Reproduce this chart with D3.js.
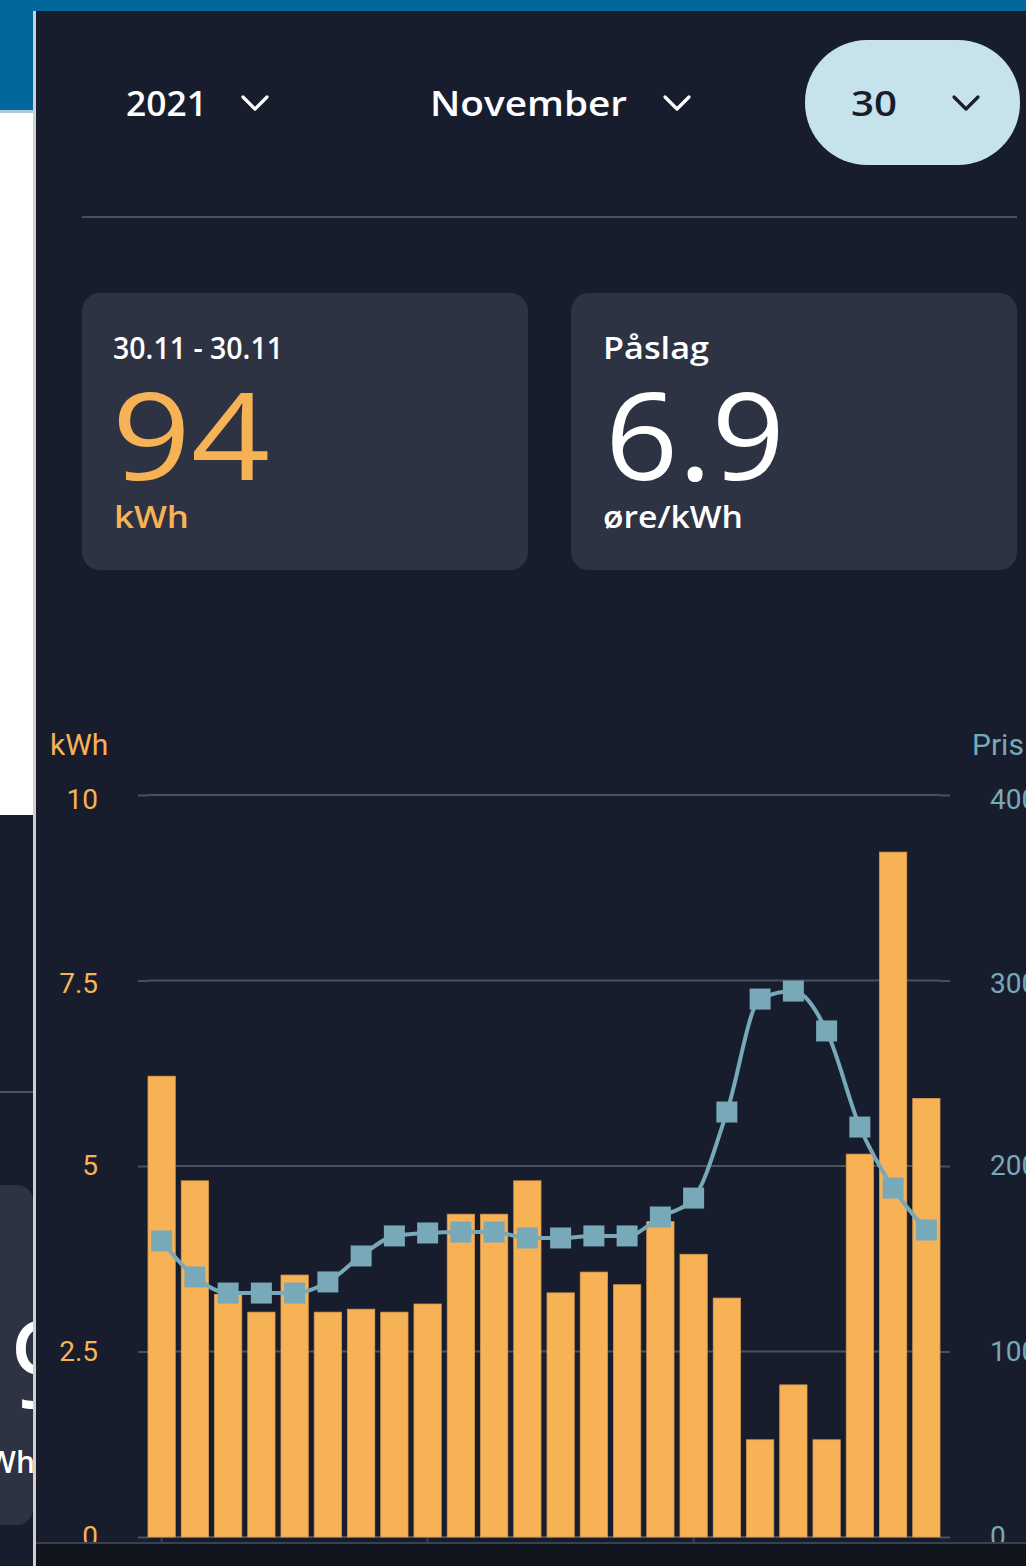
<!DOCTYPE html>
<html>
<head>
<meta charset="utf-8">
<script src="https://cdn.jsdelivr.net/npm/d3@7"></script>
<style>
  html, body { margin: 0; padding: 0; background: #181d2e; }
  svg { display: block; }
</style>
</head>
<body>
<svg id="chart" width="1026" height="1566"></svg>
<script>
// ---- Data ----
const hours = d3.range(24);
const consumption = [6.21, 4.80, 3.27, 3.03, 3.53, 3.03, 3.07, 3.03, 3.14, 4.35, 4.35, 4.80,
                     3.29, 3.57, 3.40, 4.25, 3.81, 3.22, 1.31, 2.05, 1.31, 5.16, 9.23, 5.91];
const price = [159.6, 140.2, 131.5, 131.5, 131.5, 137.5, 151.5, 162.3, 163.9, 164.4, 164.4, 161.2,
               161.2, 162.3, 162.3, 172.5, 182.7, 229.1, 290.0, 294.3, 272.8, 221.0, 188.1, 165.5];
const kwhTicks = [0, 2.5, 5, 7.5, 10];
const priceTicks = [0, 100, 200, 300, 400];
const xTickHours = [0, 8, 16];

const headerYear = "2021", headerMonth = "November", headerDay = "30";
const periodLabel = "30.11 - 30.11", totalKwh = "94", kwhUnit = "kWh";
const markupLabel = "Påslag", markupValue = "6.9", markupUnit = "øre/kWh";

// ---- Colours ----
const C = {
  bg: "#181d2e", card: "#2e3343", orange: "#f8b256", teal: "#77a9b8",
  grid: "#4b505d", pill: "#c6e2ea", blue: "#02679a", deep: "#10141e"
};

const svg = d3.select("#chart");
const headFont = "'Open Sans', sans-serif";
const chartFont = "Roboto, sans-serif";

// ---- Background / surrounding screenshot pieces ----
svg.append("rect").attr("x", 0).attr("y", 0).attr("width", 1026).attr("height", 1566).attr("fill", C.bg);
// left strip
svg.append("rect").attr("x", 0).attr("y", 0).attr("width", 34).attr("height", 815).attr("fill", "#ffffff");
svg.append("rect").attr("x", 0).attr("y", 0).attr("width", 34).attr("height", 110).attr("fill", C.blue);
svg.append("rect").attr("x", 0).attr("y", 110).attr("width", 34).attr("height", 3).attr("fill", "#a9c9dc");
svg.append("rect").attr("x", 0).attr("y", 1091).attr("width", 34).attr("height", 2).attr("fill", C.grid);
svg.append("rect").attr("x", -20).attr("y", 1185).attr("width", 53).attr("height", 340).attr("rx", 16).attr("fill", C.card);
const clipL = svg.append("clipPath").attr("id", "clipL");
clipL.append("rect").attr("x", 0).attr("y", 0).attr("width", 33).attr("height", 1566);
const lg = svg.append("g").attr("clip-path", "url(#clipL)");
lg.append("text").attr("x", 10).attr("y", 1408).attr("font-family", headFont).attr("font-weight", 500)
  .attr("font-size", 120).attr("fill", "#fff").text("9");
lg.append("text").attr("x", 35).attr("y", 1473).attr("text-anchor", "end").attr("font-family", headFont)
  .attr("font-weight", 600).attr("font-size", 30).attr("fill", "#fff").text("kWh");
// divider between strip and panel
svg.append("rect").attr("x", 33).attr("y", 0).attr("width", 3).attr("height", 1566).attr("fill", "#cfcfcf");
// top blue bar
svg.append("rect").attr("x", 0).attr("y", 0).attr("width", 1026).attr("height", 11).attr("fill", C.blue);

// ---- Header dropdowns ----
function chevron(x0, color) {
  svg.append("path").attr("d", `M${x0},97 L${x0 + 12},109 L${x0 + 24},97`)
    .attr("fill", "none").attr("stroke", color).attr("stroke-width", 3.2)
    .attr("stroke-linecap", "round").attr("stroke-linejoin", "round");
}
function headText(x, y, txt, size, weight, color, len) {
  const t = svg.append("text").attr("x", x).attr("y", y).attr("font-family", headFont)
    .attr("font-size", size).attr("font-weight", weight).attr("fill", color).text(txt);
  if (len) t.attr("textLength", len).attr("lengthAdjust", "spacingAndGlyphs");
  return t;
}
svg.append("rect").attr("x", 805).attr("y", 40).attr("width", 215).attr("height", 125).attr("rx", 62).attr("fill", C.pill);
headText(126, 116, headerYear, 35, 600, "#fff", 81);
chevron(243, "#fff");
headText(430, 116, headerMonth, 35, 600, "#fff", 197);
chevron(665, "#fff");
headText(851, 116, headerDay, 35, 600, C.bg, 46);
chevron(954, C.bg);
svg.append("rect").attr("x", 82).attr("y", 216).attr("width", 935).attr("height", 2).attr("fill", C.grid);

// ---- Cards ----
svg.append("rect").attr("x", 82).attr("y", 293).attr("width", 446).attr("height", 277).attr("rx", 18).attr("fill", C.card);
svg.append("rect").attr("x", 571).attr("y", 293).attr("width", 446).attr("height", 277).attr("rx", 18).attr("fill", C.card);
headText(113, 359, periodLabel, 30, 600, "#fff", 170);
headText(112, 480, totalKwh, 120, 500, C.orange, 158);
headText(114, 528, kwhUnit, 30, 600, C.orange, 75);
headText(603, 359, markupLabel, 30, 600, "#fff", 106);
headText(605, 480, markupValue, 120, 500, "#fff", 180);
headText(603, 528, markupUnit, 30, 600, "#fff", 140);

// ---- Chart ----
const x = d3.scaleBand().domain(hours).range([148, 940]).paddingInner(0.18).paddingOuter(0);
const yL = d3.scaleLinear().domain([0, 10]).range([1537, 795]);
const yR = d3.scaleLinear().domain([0, 400]).range([1537, 795]);

// axis titles
svg.append("text").attr("x", 50).attr("y", 755).attr("font-family", chartFont).attr("font-size", 30)
  .attr("fill", C.orange).text("kWh");
svg.append("text").attr("x", 972).attr("y", 755).attr("font-family", chartFont).attr("font-size", 30)
  .attr("fill", C.teal).text("Pris");

// left axis
const gL = svg.append("g").attr("transform", "translate(148,0)")
  .call(d3.axisLeft(yL).tickValues(kwhTicks).tickSize(10).tickPadding(40).tickFormat(d => String(d)));
gL.select(".domain").remove();
gL.selectAll("line").attr("stroke", C.grid).attr("stroke-width", 2);
gL.selectAll("text").attr("fill", C.orange).attr("font-family", chartFont).attr("font-size", 28)
  .attr("y", d => d === 10 ? 5 : (d === 7.5 ? 3 : 0));

// right axis
const gR = svg.append("g").attr("transform", "translate(940,0)")
  .call(d3.axisRight(yR).tickValues(priceTicks).tickSize(10).tickPadding(40).tickFormat(d => String(d)));
gR.select(".domain").remove();
gR.selectAll("line").attr("stroke", C.grid).attr("stroke-width", 2);
gR.selectAll("text").attr("fill", C.teal).attr("font-family", chartFont).attr("font-size", 28)
  .attr("y", d => d === 400 ? 5 : (d === 300 ? 3 : 0));

// grid lines
svg.append("g").selectAll("line").data(kwhTicks).join("line")
  .attr("x1", 148).attr("x2", 940).attr("y1", d => yL(d)).attr("y2", d => yL(d))
  .attr("stroke", C.grid).attr("stroke-width", 2);

// bars
svg.append("g").selectAll("rect").data(hours).join("rect")
  .attr("x", d => x(d)).attr("width", x.bandwidth())
  .attr("y", d => yL(consumption[d])).attr("height", d => yL(0) - yL(consumption[d]))
  .attr("fill", C.orange).attr("stroke", "#d99a4c").attr("stroke-width", 0.8);

// price line
const cx = d => x(d) + x.bandwidth() / 2;
svg.append("path").datum(hours)
  .attr("d", d3.line().x(d => cx(d)).y(d => yR(price[d])).curve(d3.curveMonotoneX))
  .attr("fill", "none").attr("stroke", C.teal).attr("stroke-width", 4);
svg.append("g").selectAll("rect").data(hours).join("rect")
  .attr("x", d => cx(d) - 10.5).attr("y", d => yR(price[d]) - 10.5)
  .attr("width", 21).attr("height", 21).attr("fill", C.teal);

// bottom x axis (cut off by nav area)
svg.append("rect").attr("x", 36).attr("y", 1544).attr("width", 990).attr("height", 22).attr("fill", C.deep);
svg.append("rect").attr("x", 36).attr("y", 1542).attr("width", 990).attr("height", 2).attr("fill", "#3b404d");
const gX = svg.append("g").attr("transform", "translate(0,1543)")
  .call(d3.axisTop(x).tickValues(xTickHours).tickSize(5).tickFormat(""));
gX.select(".domain").remove();
gX.selectAll("line").attr("stroke", "#3b404d").attr("stroke-width", 2);
</script>
</body>
</html>
